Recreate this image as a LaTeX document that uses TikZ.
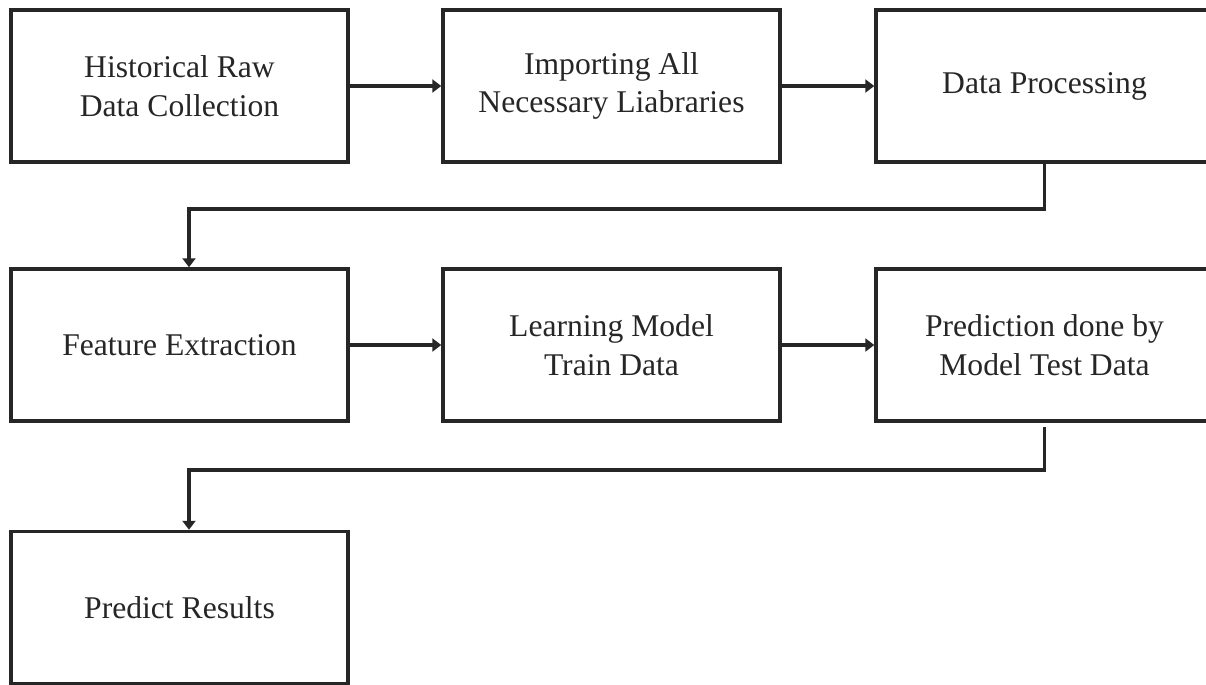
\documentclass[tikz,border=0pt]{standalone}
\usepackage{fontspec}
\setmainfont{Liberation Serif}
\usetikzlibrary{arrows.meta}

\begin{document}
\begin{tikzpicture}[x=0.02cm,y=-0.02cm,
    stage/.style={draw=black!85,line width=2pt,minimum width=6.74cm,minimum height=3.04cm,
      inner sep=0pt,align=center,font=\fontsize{18}{22}\selectfont,text=black!85},
    flow/.style={draw=black!85,line width=2pt,-{Triangle[length=0.18cm,width=0.26cm]}}]
  \useasboundingbox (0,0) rectangle (1206,684);
  % first row
  \node[stage] (hist) at (179.5,86) {Historical Raw\\Data Collection};
  \node[stage] (imp)  at (611.5,86) {Importing All\\Necessary Liabraries};
  \node[stage] (proc) at (1044.5,86) {Data Processing};
  % second row
  \node[stage] (feat) at (179.5,345) {Feature Extraction};
  \node[stage] (learn) at (611.5,345) {Learning Model\\Train Data};
  \node[stage] (pred) at (1044.5,345) {Prediction done by\\Model Test Data};
  % last row
  \node[stage] (res) at (179.5,607.5) {Predict Results};
  % bends between the rows
  \coordinate (bendA) at (1044.5,209);
  \coordinate (bendB) at (1044.5,470);
  % arrows
  \draw[flow] (hist) -- (imp);
  \draw[flow] (imp) -- (proc);
  \draw[flow] (proc.south) -- (bendA) -| ([xshift=0.19cm]feat.north);
  \draw[flow] (feat) -- (learn);
  \draw[flow] (learn) -- (pred);
  \draw[flow] ([yshift=-0.08cm]pred.south) -- (bendB) -| ([xshift=0.19cm]res.north);
\end{tikzpicture}
\end{document}
